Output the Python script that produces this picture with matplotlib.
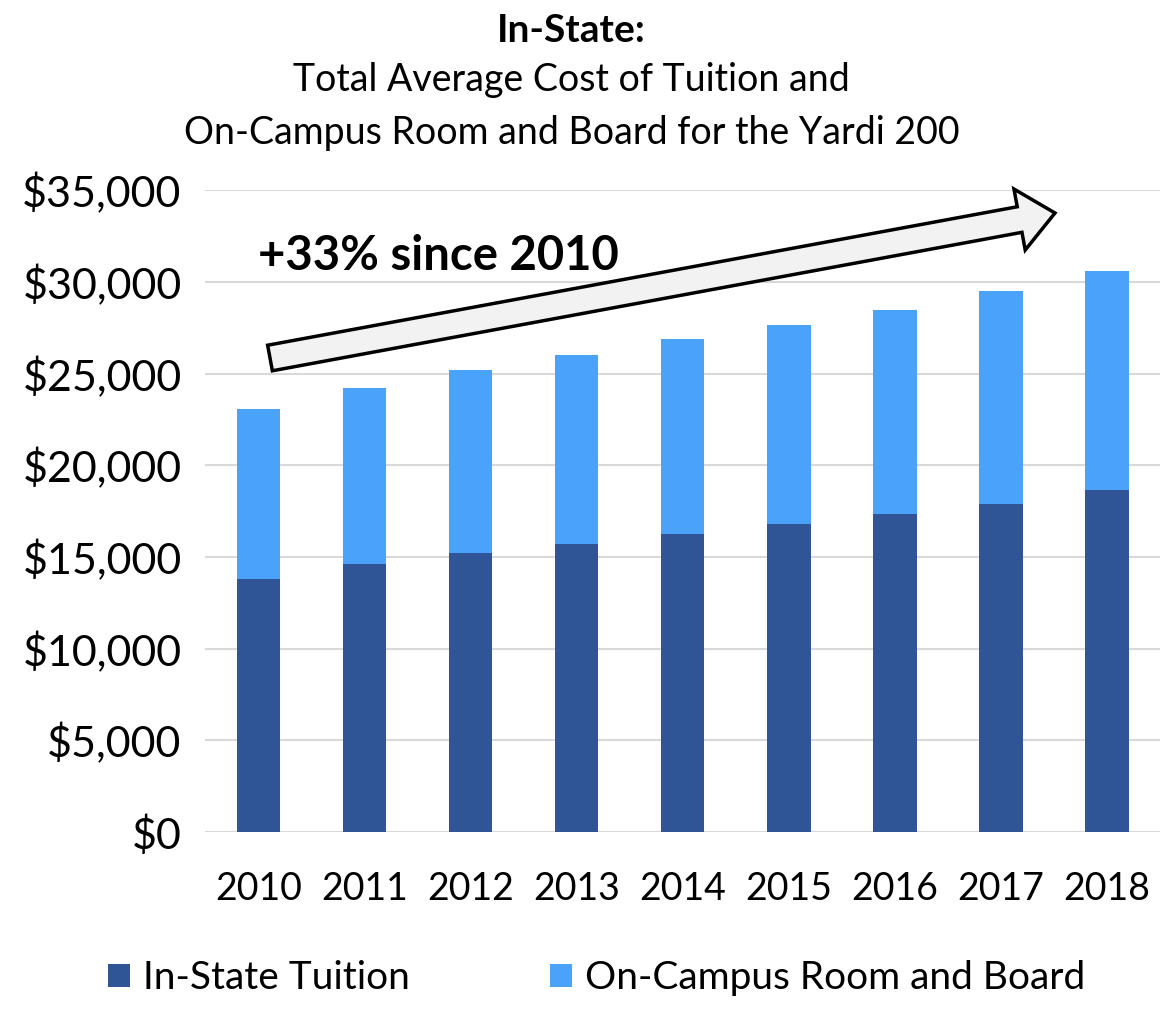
import matplotlib.pyplot as plt
import numpy as np
from matplotlib.patches import FancyArrow
from matplotlib.ticker import FuncFormatter

plt.rcParams['font.family'] = ['Lato', 'DejaVu Sans']

# values
years = ["2010", "2011", "2012", "2013", "2014", "2015", "2016", "2017", "2018"]
tuition = [13800, 14600, 15230, 15720, 16270, 16810, 17360, 17900, 18630]
room_board = [9280, 9640, 9990, 10280, 10600, 10830, 11090, 11590, 11950]

dark_blue = "#2F5597"
light_blue = "#4AA2F9"

fig = plt.figure(figsize=(11.66, 10.09), dpi=100)
ax = fig.add_axes([0.176, 0.1754, 0.819, 0.636])

x = np.arange(len(years))
ax.bar(x, tuition, width=0.41, color=dark_blue, label="In-State Tuition", zorder=2)
ax.bar(x, room_board, width=0.41, bottom=tuition, color=light_blue,
       label="On-Campus Room and Board", zorder=2)

ax.set_xlim(-0.5, len(years) - 0.5)
ax.set_ylim(0, 35000)
ax.set_yticks(np.arange(0, 35001, 5000))
ax.yaxis.set_major_formatter(FuncFormatter(lambda v, p: f"${v:,.0f}"))
ax.set_xticks(x)
ax.set_xticklabels(years)
ax.tick_params(axis="both", length=0)
ax.tick_params(axis="y", pad=17, labelsize=31)
ax.tick_params(axis="x", pad=28, labelsize=27)
ax.grid(axis="y", color="#D9D9D9", linewidth=1.5, zorder=0)
for s in ax.spines.values():
    s.set_visible(False)

# title, one line at a time
fig.text(0.49, 1 - 30 / 1009, "In-State:", ha="center", va="center",
         fontsize=28, fontweight="bold")
fig.text(0.49, 1 - 80 / 1009, "Total Average Cost of Tuition and",
         ha="center", va="center", fontsize=27)
fig.text(0.49, 1 - 133 / 1009, "On-Campus Room and Board for the Yardi 200",
         ha="center", va="center", fontsize=27)

# growth arrow (figure inches, so it keeps its shape)
tail = np.array([270, 358])
tip = np.array([1055, 213])
x0, y0 = tail[0] / 100, (1009 - tail[1]) / 100
dx, dy = (tip[0] - tail[0]) / 100, -(tip[1] - tail[1]) / 100
arrow = FancyArrow(x0, y0, dx, dy, width=0.26, head_width=0.62, head_length=0.36,
                   length_includes_head=True, facecolor="#F2F2F2", edgecolor="black",
                   linewidth=2.5, transform=fig.dpi_scale_trans)
fig.add_artist(arrow)
fig.text(258 / 1166, 1 - 256 / 1009, "+33% since 2010", ha="left", va="center",
         fontsize=34, fontweight="bold")

fig.legend(loc="center", bbox_to_anchor=(0.512, 1 - 978 / 1009), ncols=2, frameon=False,
           fontsize=28, handlelength=0.55, handleheight=0.55, handletextpad=0.35,
           columnspacing=3.6)

fig.savefig("out.png")
plt.close(fig)
